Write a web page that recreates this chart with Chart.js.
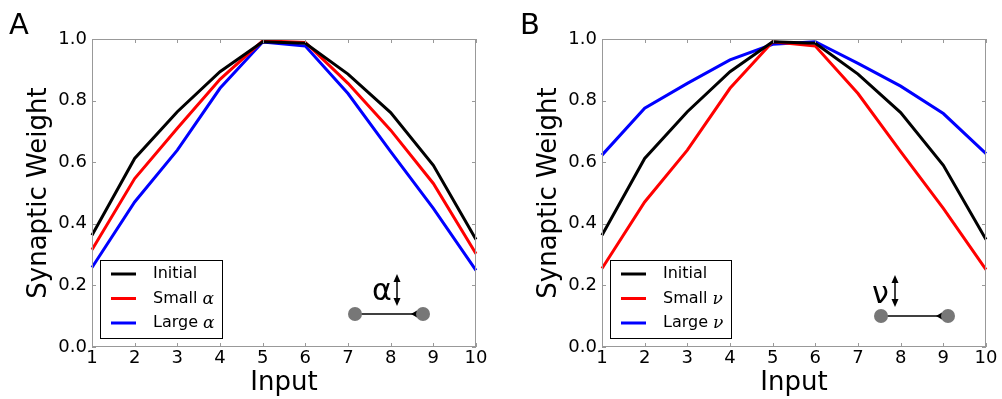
<!DOCTYPE html>
<html><head><meta charset="utf-8">
<script src="https://cdn.jsdelivr.net/npm/chart.js@4/dist/chart.umd.min.js"></script>
<style>
html,body{margin:0;padding:0;background:#fff;}
#wrap{position:relative;width:1002px;height:399px;overflow:hidden;}
canvas{position:absolute;top:0;}
</style></head><body>
<div id="wrap">
<canvas id="ca" width="500" height="399" style="left:0;width:500px;height:399px"></canvas>
<canvas id="cb" width="502" height="399" style="left:500px;width:502px;height:399px"></canvas>
</div>
<script>
const inputs = [1,2,3,4,5,6,7,8,9,10];
const initialW = [0.363,0.612,0.764,0.894,0.991,0.986,0.886,0.761,0.590,0.349];
const smallAlpha = [0.316,0.547,0.710,0.869,0.994,0.989,0.856,0.704,0.531,0.303];
const largeAlpha = [0.258,0.471,0.639,0.840,0.990,0.977,0.823,0.634,0.450,0.249];
const smallNu = [0.255,0.471,0.639,0.840,0.991,0.977,0.823,0.634,0.450,0.251];
const largeNu = [0.623,0.775,0.856,0.932,0.983,0.991,0.921,0.847,0.758,0.628];
const yTicks = [0,0.2,0.4,0.6,0.8,1.0];
const labelsA = ['Initial','Small α','Large α'];
const labelsB = ['Initial','Small ν','Large ν'];
const colors = ['#000000','#ff0000','#0000ff'];
const FONT = "'DejaVu Sans', sans-serif";

const decorPlugin = {
  id: 'decor',
  afterDatasetsDraw(chart, args, o) {
    const ctx = chart.ctx;
    const ca = chart.chartArea;
    const xs = chart.scales.x, ys = chart.scales.y;
    ctx.save();
    // frame
    ctx.strokeStyle = '#999';
    ctx.lineWidth = 1;
    ctx.strokeRect(Math.round(ca.left)+0.5, Math.round(ca.top)+0.5, Math.round(ca.right-ca.left)-1, Math.round(ca.bottom-ca.top)-1);
    // inward ticks
    ctx.beginPath();
    inputs.forEach(v => {
      const px = Math.round(xs.getPixelForValue(v)) + 0.5;
      ctx.moveTo(px, ca.bottom); ctx.lineTo(px, ca.bottom - 4);
      ctx.moveTo(px, ca.top); ctx.lineTo(px, ca.top + 4);
    });
    yTicks.forEach(v => {
      const py = Math.round(ys.getPixelForValue(v)) + 0.5;
      ctx.moveTo(ca.left, py); ctx.lineTo(ca.left + 4, py);
      ctx.moveTo(ca.right, py); ctx.lineTo(ca.right - 4, py);
    });
    ctx.stroke();
    // legend
    const L = o.legend;
    ctx.fillStyle = '#fff';
    ctx.fillRect(L.x, L.y, L.w, L.h);
    ctx.strokeStyle = '#000';
    ctx.lineWidth = 1;
    ctx.strokeRect(L.x + 0.5, L.y + 0.5, L.w, L.h);
    chart.data.datasets.forEach((ds, i) => {
      const ry = L.y + 14 + i * 24.5;
      ctx.strokeStyle = ds.borderColor;
      ctx.lineWidth = 3;
      ctx.beginPath();
      ctx.moveTo(L.x + 11, ry); ctx.lineTo(L.x + 36, ry);
      ctx.stroke();
      ctx.fillStyle = '#000';
      ctx.textBaseline = 'middle';
      ctx.textAlign = 'left';
      const lab = ds.label;
      const parts = lab.split(' ');
      if (parts.length > 1) {
        ctx.font = "16px " + FONT;
        const t = parts[0] + ' ';
        ctx.fillText(t, L.x + 53, ry);
        const w = ctx.measureText(t).width;
        ctx.font = "italic 17px 'DejaVu Serif', serif";
        ctx.fillText(parts[1], L.x + 53 + w, ry + 1);
      } else {
        ctx.font = "16px " + FONT;
        ctx.fillText(lab, L.x + 53, ry);
      }
    });
    // synapse icon
    const I = o.icon;
    ctx.strokeStyle = '#000';
    ctx.lineWidth = 1.5;
    ctx.beginPath();
    ctx.moveTo(I.x1 + 6, I.y); ctx.lineTo(I.x2 - 6, I.y);
    ctx.stroke();
    ctx.fillStyle = '#000';
    ctx.beginPath();
    ctx.moveTo(I.x2 - 12, I.y); ctx.lineTo(I.x2 - 6, I.y - 3.5); ctx.lineTo(I.x2 - 6, I.y + 3.5); ctx.closePath();
    ctx.fill();
    ctx.fillStyle = '#777';
    [I.x1, I.x2].forEach(cx => { ctx.beginPath(); ctx.arc(cx, I.y, 7, 0, Math.PI * 2); ctx.fill(); });
    ctx.fillStyle = '#000';
    ctx.font = "30px " + FONT;
    ctx.textAlign = 'left';
    ctx.textBaseline = 'alphabetic';
    ctx.fillText(I.sym, I.sx, I.sy);
    // double arrow
    ctx.lineWidth = 1.5;
    ctx.beginPath();
    ctx.moveTo(I.ax, I.ay1 + 5); ctx.lineTo(I.ax, I.ay2 - 5);
    ctx.stroke();
    ctx.beginPath();
    ctx.moveTo(I.ax, I.ay1); ctx.lineTo(I.ax - 3.5, I.ay1 + 8); ctx.lineTo(I.ax + 3.5, I.ay1 + 8); ctx.closePath();
    ctx.moveTo(I.ax, I.ay2); ctx.lineTo(I.ax - 3.5, I.ay2 - 8); ctx.lineTo(I.ax + 3.5, I.ay2 - 8); ctx.closePath();
    ctx.fill();
    // panel letter
    ctx.font = "29px " + FONT;
    ctx.textBaseline = 'alphabetic';
    ctx.fillText(o.letter, o.lx, 34);
    ctx.restore();
  }
};

function makeChart(id, series, labels, plotLeft, plotRight, opts) {
  const cv = document.getElementById(id);
  const W = cv.width;
  return new Chart(cv, {
    type: 'line',
    data: {
      datasets: series.map((s, i) => ({
        label: labels[i],
        data: inputs.map((x, j) => ({x: x, y: s[j]})),
        borderColor: colors[i],
        borderWidth: 3,
        pointRadius: 0,
        fill: false,
        tension: 0,
        clip: false
      }))
    },
    options: {
      responsive: false,
      animation: false,
      events: [],
      layout: {padding: {left: 0, top: 39, right: W - plotRight, bottom: 0}},
      plugins: {
        legend: {display: false},
        tooltip: {enabled: false},
        decor: opts
      },
      scales: {
        x: {
          type: 'linear', min: 1, max: 10,
          afterFit: s => { s.height = 52; },
          grid: {display: false, drawTicks: false},
          border: {display: false},
          ticks: {stepSize: 1, padding: 1, color: '#000', font: {family: FONT, size: 18}, maxRotation: 0},
          title: {display: true, text: 'Input', color: '#000', font: {family: FONT, size: 26, lineHeight: 1}, padding: {top: 0, bottom: 3}}
        },
        y: {
          type: 'linear', min: 0, max: 1,
          afterFit: s => { s.width = plotLeft; },
          grid: {display: false, drawTicks: false},
          border: {display: false},
          ticks: {stepSize: 0.2, padding: 5, color: '#000', font: {family: FONT, size: 18}, callback: v => Number(v).toFixed(1)},
          title: {display: true, text: 'Synaptic Weight', color: '#000', font: {family: FONT, size: 26, lineHeight: 1}, padding: {top: plotLeft - 66, bottom: 0}}
        }
      }
    },
    plugins: [decorPlugin]
  });
}

makeChart('ca', [initialW, smallAlpha, largeAlpha], labelsA, 92, 476, {
  legend: {x: 100, y: 260, w: 122, h: 78},
  icon: {x1: 355, x2: 423, y: 314, sym: 'α', sx: 372, sy: 300, ax: 397, ay1: 274, ay2: 306},
  letter: 'A', lx: 9
});
makeChart('cb', [initialW, smallNu, largeNu], labelsB, 102, 486, {
  legend: {x: 110, y: 260, w: 121, h: 78},
  icon: {x1: 381, x2: 448, y: 316, sym: 'ν', sx: 372, sy: 303, ax: 395, ay1: 275, ay2: 307},
  letter: 'B', lx: 20
});
</script>
</body></html>
